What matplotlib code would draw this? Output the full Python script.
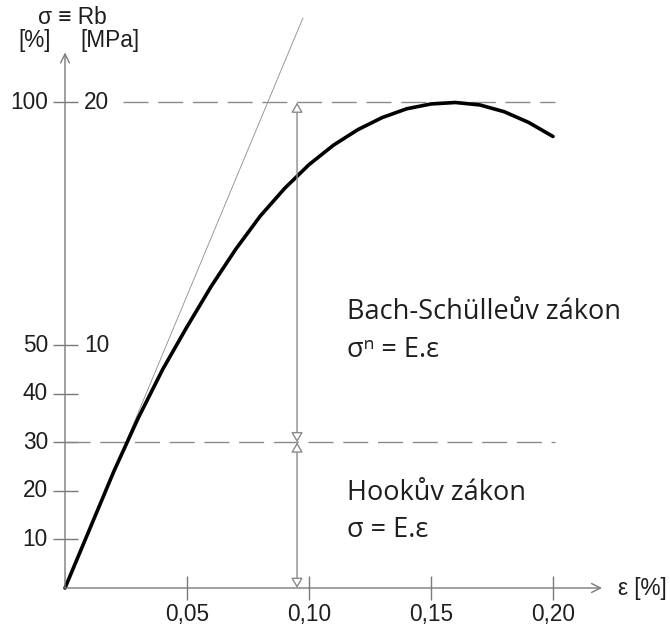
import matplotlib.pyplot as plt

# stress-strain curve of concrete
eps = [0, 0.01, 0.02, 0.03, 0.04, 0.05, 0.06, 0.07, 0.08, 0.09, 0.10,
       0.11, 0.12, 0.13, 0.14, 0.15, 0.16, 0.17, 0.18, 0.19, 0.20]
sigma = [0, 12, 24, 35, 45, 53.8, 62.2, 69.8, 76.6, 82.3, 87.2,
         91.2, 94.4, 96.9, 98.7, 99.7, 100, 99.5, 98.1, 95.9, 93]

# Hooke tangent line
hooke_eps = [0, 0.0975]
hooke_sigma = [0, 117.4]

x_ticks = [0.05, 0.10, 0.15, 0.20]
x_labels = ["0,05", "0,10", "0,15", "0,20"]
y_ticks = [10, 20, 30, 40, 50, 100]
y_labels = ["10", "20", "30", "40", "50", "100"]
mpa_ticks = [50, 100]
mpa_labels = ["10", "20"]

limits = [30, 100]
arrow_eps = 0.0951

GRAY = "#8a8a8a"
AX = "#7a7a7a"
INK = "#1e1e1e"
LBL = ["Liberation Sans", "DejaVu Sans"]
TXT = ["Open Sans", "DejaVu Sans"]
FS = 16.3

fig = plt.figure(figsize=(6.7, 6.27), dpi=100)
ax = fig.add_axes([0, 0, 1, 1])
ax.set_xlim(-65 / 2440, 605 / 2440)
ax.set_ylim(-39 / 4.855, 588 / 4.855)
ax.axis("off")

# axes with open arrow heads
ax.annotate("", xy=(0.2201, 0), xytext=(0, 0),
            arrowprops=dict(arrowstyle="->", color=AX, lw=1.0, shrinkA=0, shrinkB=0,
                            mutation_scale=16))
ax.annotate("", xy=(0, 110.3), xytext=(0, 0),
            arrowprops=dict(arrowstyle="->", color=AX, lw=1.0, shrinkA=0, shrinkB=0,
                            mutation_scale=16))

# ticks
ax.plot([0] * len(y_ticks), y_ticks, ls="none", marker="_", ms=18, mew=1.0, color=AX)
ax.plot(x_ticks, [0] * len(x_ticks), ls="none", marker="|", ms=17, mew=1.0, color=AX)

for v, s in zip(y_ticks, y_labels):
    ax.annotate(s, (0, v), xytext=(-17, 0), textcoords="offset pixels",
                ha="right", va="center", fontsize=FS, family=LBL, color=INK)
for v, s in zip(mpa_ticks, mpa_labels):
    ax.annotate(s, (0, v), xytext=(19, 0), textcoords="offset pixels",
                ha="left", va="center", fontsize=FS, family=LBL, color=INK)
for v, s in zip(x_ticks, x_labels):
    ax.annotate(s, (v, 0), xytext=(0, -27), textcoords="offset pixels",
                ha="center", va="center", fontsize=FS, family=LBL, color=INK)

ax.annotate("ε [%]", (0.2201, 0), xytext=(16, 0), textcoords="offset pixels",
            ha="left", va="center", fontsize=FS, family=LBL, color=INK)
ax.annotate("σ ≡ Rb", (0, 110.3), xytext=(7, 35), textcoords="offset pixels",
            ha="center", va="center", fontsize=FS, family=LBL, color=INK)
ax.annotate("[%]", (0, 110.3), xytext=(-30, 12), textcoords="offset pixels",
            ha="center", va="center", fontsize=FS, family=LBL, color=INK)
ax.annotate("[MPa]", (0, 110.3), xytext=(45, 12), textcoords="offset pixels",
            ha="center", va="center", fontsize=FS, family=LBL, color=INK)

# limit lines
ax.plot([0, 0.2008], [limits[0]] * 2, color=GRAY, lw=1.0, dashes=(18, 7))
ax.plot([0.0238, 0.2008], [limits[1]] * 2, color=GRAY, lw=1.0, dashes=(18, 7))

# dimension arrows
for lo, hi in [(0, limits[0]), (limits[0], limits[1])]:
    ax.annotate("", xy=(arrow_eps, hi), xytext=(arrow_eps, lo),
                arrowprops=dict(arrowstyle="<|-|>,head_length=0.6,head_width=0.35",
                                fc="white", ec=GRAY, lw=1.0, shrinkA=0, shrinkB=0,
                                mutation_scale=10))

# curves
ax.plot(hooke_eps, hooke_sigma, color="#8c8c8c", lw=0.6)
ax.plot(eps, sigma, color="black", lw=2.6, solid_capstyle="round", solid_joinstyle="round")

# law labels
for y, s in [(56.8, "Bach-Schülleův zákon"), (49.0, "σⁿ = E.ε"),
             (19.6, "Hookův zákon"), (11.9, "σ = E.ε")]:
    ax.text(0.1156, y, s, fontsize=19.5, family=TXT, ha="left", va="center", color=INK)

fig.savefig("out.png", dpi=100)
